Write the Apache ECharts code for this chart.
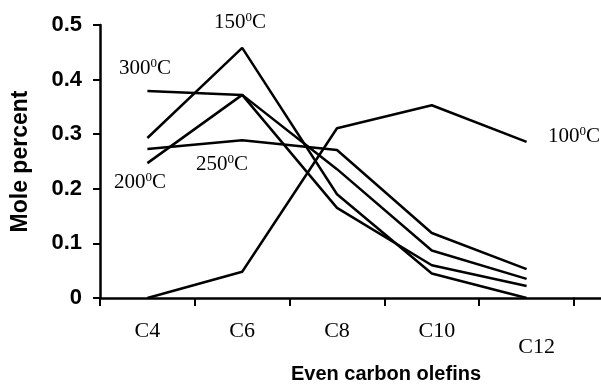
<!DOCTYPE html>
<html>
<head>
    <meta charset="utf-8">
    <script src="https://cdn.jsdelivr.net/npm/echarts@6/dist/echarts.min.js"></script>
    <style>
        html, body { margin: 0; padding: 0; background: #fff; }
        #main { width: 601px; height: 384px; }
    </style>
</head>
<body>
<div id="main"></div>
<script>
    var categories = ['C4', 'C6', 'C8', 'C10', 'C12'];
    var yTicks = [0, 0.1, 0.2, 0.3, 0.4, 0.5];

    // mole percent
    var t100 = [0, 0.048, 0.311, 0.353, 0.286];
    var t150 = [0.293, 0.458, 0.19, 0.045, 0];
    var t200 = [0.247, 0.372, 0.165, 0.06, 0.022];
    var t250 = [0.273, 0.289, 0.271, 0.119, 0.053];
    var t300 = [0.379, 0.372, 0.236, 0.087, 0.035];

    var seriesNames = ['100', '150', '200', '250', '300'];
    var seriesData = [t100, t150, t200, t250, t300];

    var serif = '"Liberation Serif", "Times New Roman", serif';
    var sans = '"Liberation Sans", Arial, sans-serif';

    var chart = echarts.init(document.getElementById('main'));

    // temperature label: 150 + superscript 0 + C
    function tempLabel(t, x, y) {
        return {
            type: 'text',
            x: x,
            y: y,
            style: {
                text: '{n|' + t + '}{s|0}{n|C}',
                align: 'center',
                verticalAlign: 'middle',
                fill: '#000',
                rich: {
                    n: { fontFamily: serif, fontSize: 21, color: '#000', verticalAlign: 'bottom' },
                    s: { fontFamily: serif, fontSize: 13, color: '#000', verticalAlign: 'top' }
                }
            }
        };
    }

    var series = seriesData.map(function (d, i) {
        return {
            name: seriesNames[i],
            type: 'line',
            data: d,
            symbol: 'none',
            lineStyle: { color: '#000', width: 2.5 },
            itemStyle: { color: '#000' }
        };
    });

    var option = {
        backgroundColor: '#fff',
        animation: false,
        grid: [
            { left: 100, right: 27, top: 25, bottom: 86, outerBoundsMode: 'none' },
            // the x axis line runs on a little past the last tick
            { left: 574, right: 0, top: 25, bottom: 86, outerBoundsMode: 'none' }
        ],
        xAxis: [{
            type: 'category',
            gridIndex: 0,
            data: categories.map(function (c) {
                if (c === 'C12') return { value: c, textStyle: { padding: [16, 0, 0, 20] } };
                if (c === 'C10') return { value: c, textStyle: { padding: [0, 0, 0, 10] } };
                return c;
            }),
            boundaryGap: true,
            name: 'Even carbon olefins',
            nameLocation: 'middle',
            nameGap: 66,
            nameTextStyle: {
                fontFamily: sans, fontWeight: 'bold', fontSize: 20, color: '#000',
                padding: [0, 0, 0, 98]
            },
            axisLine: { lineStyle: { color: '#000', width: 2.5 } },
            axisTick: { show: true, length: 8, lineStyle: { color: '#000', width: 2 } },
            axisLabel: { fontFamily: serif, fontSize: 22, color: '#000', margin: 22 },
            splitLine: { show: false }
        }, {
            type: 'category',
            gridIndex: 1,
            data: [''],
            axisLine: { lineStyle: { color: '#000', width: 2.5 } },
            axisTick: { show: false },
            axisLabel: { show: false }
        }],
        yAxis: [{
            type: 'value',
            gridIndex: 0,
            min: yTicks[0],
            max: yTicks[yTicks.length - 1],
            interval: 0.1,
            name: 'Mole percent',
            nameLocation: 'middle',
            nameGap: 68,
            nameRotate: 90,
            nameTextStyle: { fontFamily: sans, fontWeight: 'bold', fontSize: 23, color: '#000' },
            axisLine: { show: true, lineStyle: { color: '#000', width: 2.5 } },
            axisTick: { show: true, length: 7, lineStyle: { color: '#000', width: 2 } },
            axisLabel: {
                fontFamily: sans, fontWeight: 'bold', fontSize: 22, color: '#000', margin: 18,
                formatter: function (v) { return String(Math.round(v * 10) / 10); }
            },
            splitLine: { show: false }
        }, {
            type: 'value',
            gridIndex: 1,
            show: false
        }],
        graphic: [
            tempLabel(150, 240, 22),
            tempLabel(300, 145, 68),
            tempLabel(250, 222, 164),
            tempLabel(200, 140, 182),
            tempLabel(100, 574, 136)
        ],
        series: series
    };
    chart.setOption(option);
</script>
</body>
</html>
